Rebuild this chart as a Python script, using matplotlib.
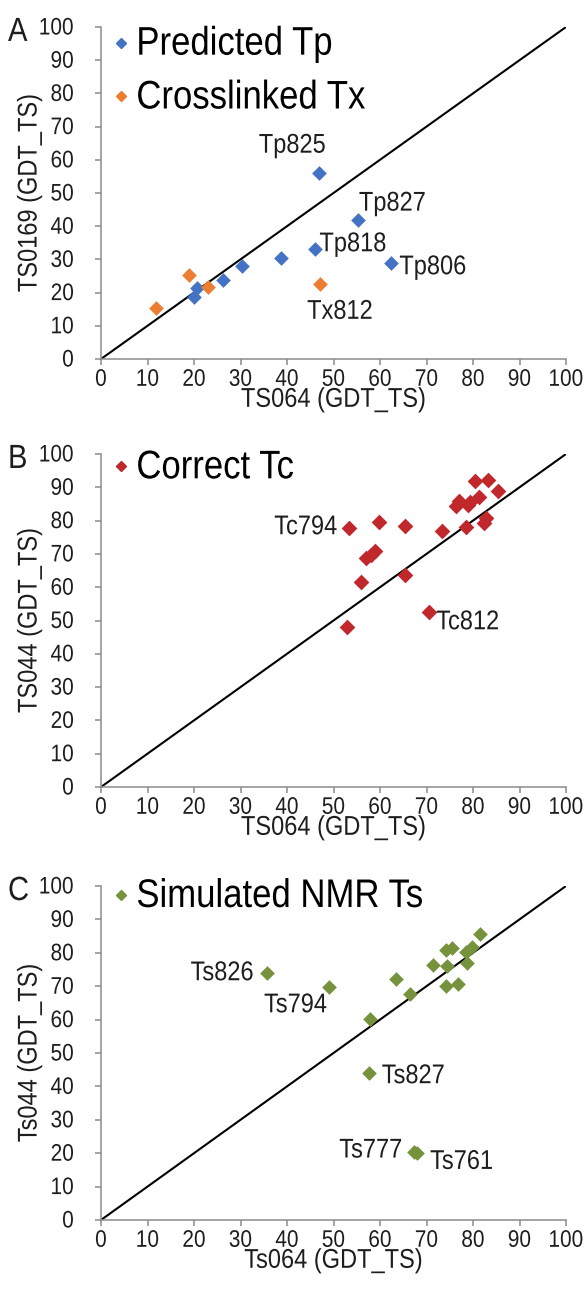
"""
plot.py

Three stacked GDT_TS comparison scatter panels (A: predicted / crosslinked,
B: correct contacts, C: simulated NMR), each with a y = x reference line.
"""

import matplotlib
matplotlib.use("Agg")
import matplotlib.pyplot as plt
from matplotlib.lines import Line2D
from matplotlib.patheffects import AbstractPathEffect
from matplotlib.transforms import Affine2D

plt.rcParams["font.family"] = ["Liberation Sans", "DejaVu Sans"]

# ---- Panel A data -------------------------------------------------------
tp_x = [46.8, 55.2, 46.1, 62.4, 38.7, 30.3, 26.2, 20.6, 20.0]
tp_y = [56.0, 41.9, 33.0, 29.0, 30.4, 27.9, 23.7, 21.4, 18.8]
tx_x = [47.2, 19.0, 23.1, 11.8]
tx_y = [22.7, 25.4, 21.7, 15.4]

# ---- Panel B data -------------------------------------------------------
tc_x = [53.3, 59.7, 65.3, 73.3, 78.5, 56.9, 58.0, 59.0, 56.0, 65.3, 70.5,
        52.9, 80.5, 83.2, 85.3, 76.9, 76.4, 79.4, 81.2, 78.9, 82.7, 82.3]
tc_y = [77.7, 79.7, 78.4, 76.8, 78.0, 68.7, 69.8, 71.0, 61.7, 63.7, 52.5,
        48.1, 92.0, 92.2, 89.0, 86.0, 84.4, 85.7, 87.2, 84.7, 80.7, 79.2]

# ---- Panel C data -------------------------------------------------------
ts_x = [35.6, 49.0, 63.5, 66.4, 57.9, 71.4, 74.4, 74.1, 75.5, 78.6, 79.8,
        81.6, 78.7, 74.1, 76.8, 57.6, 67.3, 68.0]
ts_y = [74.0, 69.8, 72.1, 67.6, 60.3, 76.3, 76.0, 80.8, 81.3, 80.3, 81.8,
        85.6, 76.8, 70.0, 70.6, 44.0, 20.5, 20.0]

# point labels: (text, x, y, offset in points)
labels_a = [("Tp825", 46.8, 56.0, (-19, 19)),
            ("Tp827", 55.2, 41.9, (25, 11)),
            ("Tp818", 46.1, 33.0, (27, 3)),
            ("Tp806", 62.4, 29.0, (30, -4)),
            ("Tx812", 47.2, 22.7, (14, -21))]
labels_b = [("Tc794", 53.3, 77.7, (-31, 0)),
            ("Tc812", 70.5, 52.5, (28, -8))]
labels_c = [("Ts826", 35.6, 74.0, (-32, -1)),
            ("Ts794", 49.0, 69.8, (-24, -14)),
            ("Ts827", 57.6, 44.0, (32, -3)),
            ("Ts777", 67.3, 20.5, (-31, 0)),
            ("Ts761", 68.0, 20.0, (32, -7))]

ticks = list(range(0, 101, 10))

BLUE = "#4472C4"
ORANGE = "#ED7D31"
RED = "#C0282C"
GREEN = "#76923C"
AXIS_GRAY = "#8C8C8C"
TEXT = "#1E1E1E"

W, H = 586, 1296
fig = plt.figure(figsize=(W / 100, H / 100), dpi=100)


class Stretch(AbstractPathEffect):
    """Draw text glyphs a little taller than wide (the scan is stretched)."""

    def __init__(self, sy=1.15):
        super().__init__()
        self.sy = sy

    def draw_path(self, renderer, gc, tpath, affine, rgbFace=None):
        renderer.draw_path(gc, tpath, Affine2D().scale(1, self.sy) + affine, rgbFace)


TALL = [Stretch(1.15)]


def _make_axes(bottom_px, top_px):
    left, right = 101, 566
    return fig.add_axes([left / W, 1 - bottom_px / H,
                         (right - left) / W, (bottom_px - top_px) / H])


def _style(ax, xlabel, ylabel, letter):
    ax.set_xlim(0, 100)
    ax.set_ylim(0, 100)
    ax.set_xticks(ticks)
    ax.set_yticks(ticks)
    for side in ("top", "right"):
        ax.spines[side].set_visible(False)
    for side in ("left", "bottom"):
        ax.spines[side].set_color(AXIS_GRAY)
        ax.spines[side].set_linewidth(1.1)
    ax.tick_params(axis="both", direction="out", length=4.5, width=1.1,
                   color=AXIS_GRAY, labelsize=15, labelcolor=TEXT)
    ax.tick_params(axis="x", pad=4)
    ax.tick_params(axis="y", pad=15)
    ax.set_xlabel(xlabel, fontsize=17, color=TEXT, labelpad=0, path_effects=TALL)
    ax.set_ylabel(ylabel, fontsize=17, color=TEXT, labelpad=-2, path_effects=TALL)
    for tick in ax.xaxis.get_major_ticks() + ax.yaxis.get_major_ticks():
        tick.label1.set_path_effects(TALL)
    ax.plot([0, 100], [0, 100], color="black", lw=1.5, zorder=1)
    ax.text(-0.2, 0.958, letter, transform=ax.transAxes, fontsize=21,
            color=TEXT, va="baseline", ha="left", path_effects=TALL)


def _label(ax, items):
    for text, x, y, off in items:
        ax.annotate(text, (x, y), xytext=off, textcoords="offset points",
                    ha="center", va="center", fontsize=17, color=TEXT,
                    path_effects=TALL)


def _legend(ax, entries, top):
    handles = [Line2D([], [], ls="none", marker="D", markersize=5.5,
                      markerfacecolor=c, markeredgecolor=c) for c, _ in entries]
    leg = ax.legend(handles, [t for _, t in entries], loc="upper left",
                    bbox_to_anchor=(0.02, top), frameon=False, fontsize=25,
                    handlelength=0.6, handletextpad=0.15, borderpad=0,
                    borderaxespad=0, labelspacing=0.6)
    for t in leg.get_texts():
        t.set_path_effects(TALL)


# Panel A
ax_a = _make_axes(359, 27)
ax_a.scatter(tp_x, tp_y, marker="D", s=56, color=BLUE, linewidths=0, zorder=3)
ax_a.scatter(tx_x, tx_y, marker="D", s=56, color=ORANGE, linewidths=0, zorder=3)
_style(ax_a, "TS064 (GDT_TS)", "TS0169 (GDT_TS)", "A")
_label(ax_a, labels_a)
_legend(ax_a, [(BLUE, "Predicted Tp"), (ORANGE, "Crosslinked Tx")], 0.995)

# Panel B
ax_b = _make_axes(787, 454)
ax_b.scatter(tc_x, tc_y, marker="D", s=64, color=RED, linewidths=0, zorder=3)
_style(ax_b, "TS064 (GDT_TS)", "TS044 (GDT_TS)", "B")
_label(ax_b, labels_b)
_legend(ax_b, [(RED, "Correct Tc")], 1.005)

# Panel C
ax_c = _make_axes(1220, 886)
ax_c.scatter(ts_x, ts_y, marker="D", s=56, color=GREEN, linewidths=0, zorder=3)
_style(ax_c, "Ts064 (GDT_TS)", "Ts044 (GDT_TS)", "C")
_label(ax_c, labels_c)
_legend(ax_c, [(GREEN, "Simulated NMR Ts")], 1.015)

fig.savefig("out.png", dpi=100)
